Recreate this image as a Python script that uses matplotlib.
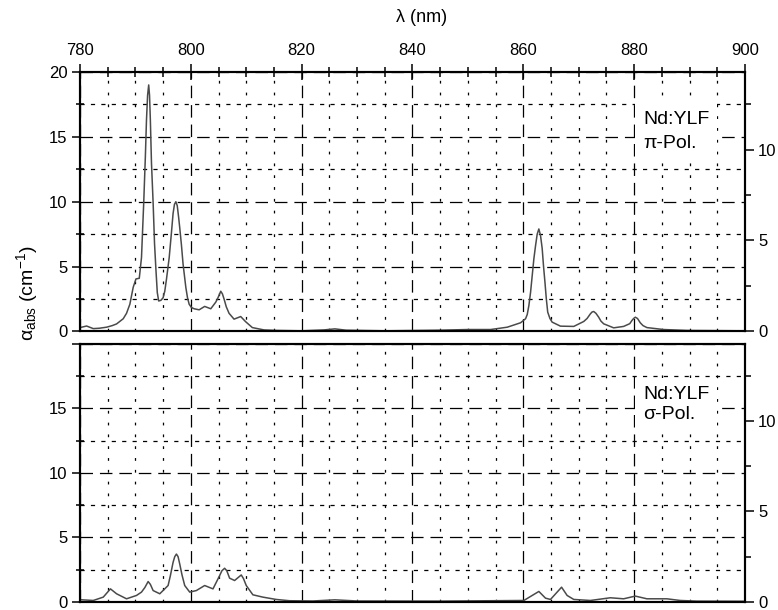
import matplotlib
matplotlib.use('Agg')
import matplotlib.pyplot as plt
from matplotlib.ticker import MultipleLocator

plt.rcParams['font.family'] = ['Liberation Sans', 'DejaVu Sans']
plt.rcParams['mathtext.fontset'] = 'custom'
plt.rcParams['mathtext.rm'] = 'Liberation Sans'
plt.rcParams['mathtext.it'] = 'Liberation Sans:italic'
plt.rcParams['lines.scale_dashes'] = False

# Nd:YLF absorption, pi polarisation (wavelength in nm, alpha in 1/cm)
pi_wl = [780.0, 781.2, 782.4, 783.5, 784.8, 785.8, 786.6, 787.8, 788.4, 789.0,
         789.6, 790.1, 790.7, 791.1, 791.5, 791.8, 792.0, 792.2, 792.4, 792.55,
         792.7, 792.9, 793.2, 793.45, 793.7, 793.95, 794.2, 794.6, 795.0, 795.3,
         795.6, 796.1, 796.5, 796.8, 797.05, 797.3, 797.55, 797.8, 798.0, 798.3,
         798.6, 799.1, 799.4, 799.7, 800.1, 800.6, 801.5, 802.5, 803.6, 804.5,
         804.9, 805.4, 805.7, 806.0, 806.4, 806.9, 807.8, 809.0, 809.9, 811.1,
         813.2, 815.6, 820.0, 824.0, 826.0, 828.0, 835.0, 845.0, 850.0, 854.1,
         857.1, 859.5, 860.4, 860.7, 861.0, 861.3, 861.6, 861.9, 862.2, 862.5,
         862.8, 863.1, 863.4, 863.65, 863.9, 864.15, 864.4, 864.8, 865.2, 866.7,
         869.1, 870.9, 871.5, 872.1, 872.4, 872.7, 873.1, 873.6, 874.0, 874.5,
         876.3, 878.1, 879.2, 879.6, 879.9, 880.2, 880.6, 881.1, 881.6, 882.3,
         885.3, 889.5, 900.0]
pi_abs = [0.30, 0.42, 0.22, 0.25, 0.33, 0.45, 0.58, 0.98, 1.4, 2.1,
          3.4, 4.05, 4.1, 5.7, 9.9, 13.5, 16.3, 18.2, 19.0, 18.2,
          16.3, 13.0, 9.9, 6.8, 4.8, 3.0, 2.35, 2.4, 2.6, 3.1,
          4.0, 5.7, 7.6, 9.1, 9.8, 10.0, 9.7, 8.8, 8.0, 6.7,
          5.2, 3.4, 2.6, 2.1, 1.85, 1.75, 1.67, 1.93, 1.75, 2.26,
          2.6, 3.1, 2.9, 2.5, 1.9, 1.4, 0.95, 1.15, 0.75, 0.3,
          0.12, 0.08, 0.05, 0.12, 0.2, 0.1, 0.05, 0.1, 0.15, 0.15,
          0.33, 0.67, 0.98, 1.3, 2.0, 3.0, 4.3, 5.6, 6.6, 7.5,
          7.9, 7.4, 6.4, 5.0, 3.8, 2.5, 1.49, 1.0, 0.72, 0.41,
          0.39, 0.77, 1.0, 1.36, 1.5, 1.54, 1.4, 1.1, 0.8, 0.59,
          0.28, 0.39, 0.6, 0.85, 1.0, 1.1, 1.0, 0.67, 0.45, 0.3,
          0.15, 0.08, 0.05]

# Nd:YLF absorption, sigma polarisation
sigma_wl = [780.0, 782.4, 784.2, 785.5, 786.6, 788.4, 790.2, 791.1, 791.7, 792.3,
            792.7, 793.2, 794.4, 795.9, 796.3, 796.8, 797.1, 797.4, 797.7, 798.0,
            798.4, 798.9, 799.8, 801.0, 802.5, 804.0, 805.2, 805.6, 806.1, 806.5,
            807.0, 807.9, 808.6, 809.1, 809.5, 810.0, 811.2, 813.0, 815.4, 817.8,
            822.0, 826.0, 830.0, 845.0, 860.1, 861.6, 862.8, 864.0, 864.9, 866.1,
            866.9, 867.9, 869.1, 872.1, 875.7, 878.1, 880.2, 882.3, 885.9, 888.3,
            891.3, 900.0]
sigma_abs = [0.16, 0.1, 0.36, 1.0, 0.62, 0.23, 0.49, 0.75, 1.1, 1.57,
             1.35, 0.87, 0.62, 1.26, 2.0, 3.06, 3.5, 3.7, 3.5, 2.93,
             2.1, 1.26, 0.75, 0.87, 1.26, 1.0, 2.03, 2.4, 2.6, 2.4,
             1.83, 1.65, 1.9, 2.08, 1.8, 1.26, 0.54, 0.36, 0.18, 0.08,
             0.06, 0.15, 0.06, 0.05, 0.1, 0.49, 0.8, 0.28, 0.18, 0.75,
             1.13, 0.49, 0.18, 0.1, 0.31, 0.23, 0.44, 0.23, 0.23, 0.1,
             0.05, 0.04]

wl_ticks = [780, 800, 820, 840, 860, 880, 900]
left_ticks = [0, 5, 10, 15, 20]
right_ticks = [0, 5, 10]
right_factor = 1.4025  # left-axis units per right-axis unit

curve_color = '#4a4a4a'
frame_lw = 1.5

fig = plt.figure(figsize=(7.78, 6.10), dpi=100)
ax_pi = fig.add_axes([0.1028, 0.4566, 0.8548, 0.4254])
ax_sig = fig.add_axes([0.1028, 0.0135, 0.8548, 0.4226])


def style_panel(ax, top_labels, left_labels, note, note_y, spacing):
    ax.set_xlim(780, 900)
    ax.set_ylim(0, 20)
    ax.set_xticks(wl_ticks)
    ax.xaxis.set_minor_locator(MultipleLocator(5))
    ax.set_yticks(left_ticks)
    ax.set_yticklabels(left_labels)
    ax.yaxis.set_minor_locator(MultipleLocator(2.5))
    ax.set_axisbelow(True)

    ax.xaxis.grid(True, which='major', color='k', lw=0.9, linestyle=(0, (9, 5)))
    ax.xaxis.grid(True, which='minor', color='k', lw=0.9, linestyle=(0, (2, 6.5)))
    ax.yaxis.grid(True, which='major', color='k', lw=0.9, linestyle=(0, (9, 5)))
    ax.yaxis.grid(True, which='minor', color='k', lw=0.9, linestyle=(0, (3, 4.5)))

    for sp in ax.spines.values():
        sp.set_linewidth(frame_lw)

    ax.tick_params(axis='x', which='both', bottom=False, top=top_labels,
                   labelbottom=False, labeltop=top_labels, direction='inout',
                   width=1.1, labelsize=12, pad=4)
    ax.tick_params(axis='x', which='major', length=12)
    ax.tick_params(axis='x', which='minor', length=7)
    ax.tick_params(axis='y', which='major', direction='out', length=6,
                   width=1.1, labelsize=12, pad=3)
    ax.tick_params(axis='y', which='minor', direction='inout', length=6,
                   width=1.1)

    ax.text(881.6, note_y, note, fontsize=14, ha='left', va='center',
            linespacing=spacing, zorder=4,
            bbox=dict(boxstyle='square,pad=0.42', fc='white', ec='none'))

    twin = ax.twinx()
    twin.set_ylim(0, 20 / right_factor)
    twin.set_yticks(right_ticks)
    twin.yaxis.set_minor_locator(MultipleLocator(2.5))
    twin.tick_params(axis='y', which='major', direction='out', length=6.5,
                     width=1.1, labelsize=12, pad=3)
    twin.tick_params(axis='y', which='minor', direction='out', length=4,
                     width=1.1)
    for sp in twin.spines.values():
        sp.set_linewidth(frame_lw)
    return twin


style_panel(ax_pi, True, ['0', '5', '10', '15', '20'],
            'Nd:YLF\nπ-Pol.', 15.4, 1.5)
style_panel(ax_sig, False, ['0', '5', '10', '15', ''],
            'Nd:YLF\nσ-Pol.', 15.3, 1.2)

ax_pi.plot(pi_wl, pi_abs, color=curve_color, lw=1.1, zorder=2)
ax_sig.plot(sigma_wl, sigma_abs, color=curve_color, lw=1.1, zorder=2)

fig.text(421.7 / 778, 1 - 17 / 610, 'λ (nm)', fontsize=13,
         ha='center', va='center')
fig.text(27 / 778, 1 - 293 / 610, r'α$_{\mathrm{abs}}$ (cm$^{-1}$)',
         fontsize=14, rotation=90, ha='center', va='center')

fig.savefig('out.png', dpi=100)
